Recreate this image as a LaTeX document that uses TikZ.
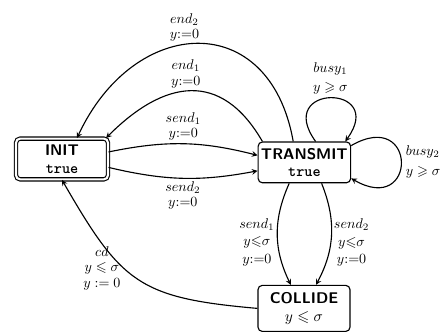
\documentclass[tikz,border=0pt]{standalone}
\usepackage{amsmath,amssymb}
\usepackage{tikz}

\begin{document}
\begin{tikzpicture}[>=stealth, line width=0.8pt,
    loc/.style={draw, rounded corners=3pt, align=center, inner sep=2pt, minimum width=2.3cm, minimum height=1.02cm, font=\fontsize{11}{12.5}\selectfont},
    lbl/.style={align=center, inner sep=1pt, font=\fontsize{10}{11}\selectfont},
    lbltall/.style={lbl, font=\fontsize{10}{12.5}\selectfont},
    lblbusy/.style={lbl, font=\fontsize{10}{14}\selectfont}]

    \useasboundingbox (0,0) rectangle (11.2,8.35);

    \node [loc, double, double distance=1.5pt] (init) at (1.55,4.375) {\textsf{\textbf{INIT}}\\\texttt{\textbf{true}}};
    \node [loc] (tr) at (7.61,4.29) {\textsf{\textbf{TRANSMIT}}\\\texttt{\textbf{true}}};
    \node [loc, minimum height=1.15cm] (co) at (7.6,0.64) {\textsf{\textbf{COLLIDE}}\\$y \leqslant \sigma$};

    % INIT <-> TRANSMIT
    \draw [->] ([yshift=5pt]init.east) to[bend left=13] node[lbl, above=1pt] {$send_1$\\$y{:=}0$} ([yshift=5pt]tr.west);
    \draw [->] ([yshift=-6pt]init.east) to[bend right=12] node[lbl, below=1pt] {$send_2$\\$y{:=}0$} ([yshift=-6pt]tr.west);
    \draw [->] ([xshift=-1.05cm]tr.north) to[out=120, in=45, looseness=1.35] node[lbl, above=1pt, pos=0.53] {$end_1$\\$y{:=}0$} ([xshift=1.1cm]init.north);
    \draw [->] ([xshift=-0.28cm]tr.north) to[out=100, in=65, looseness=1.6] node[lbl, above=1pt, pos=0.55] {$end_2$\\$y{:=}0$} ([xshift=0.375cm]init.north);

    % self loops
    \draw [->] ([xshift=0.28cm]tr.north) to[out=126, in=54, looseness=6.2] node[lblbusy, above=1pt] {$busy_1$\\$y \geqslant \sigma$} ([xshift=1.02cm]tr.north);
    \draw [->] ([yshift=0.42cm]tr.east) to[out=30, in=-30, looseness=6] node[lblbusy, right=2pt, align=left] {$busy_2$\\$y \geqslant \sigma$} ([yshift=-0.4cm]tr.east);

    % TRANSMIT -> COLLIDE -> INIT
    \draw [->] ([xshift=-0.38cm]tr.south) to[bend right=25] node[lbltall, left=1pt, pos=0.58] {$send_1$\\$y{\leqslant}\sigma$\\$y{:=}0$} ([xshift=-0.33cm]co.north);
    \draw [->] ([xshift=0.43cm]tr.south) to[bend left=25] node[lbltall, right=1pt, pos=0.58] {$send_2$\\$y{\leqslant}\sigma$\\$y{:=}0$} ([xshift=0.3cm]co.north);
    \draw [->] (co.west) to[out=175, in=-60, looseness=1.3] node[lbl, left=1pt, pos=0.59] {$cd$\\$y \leqslant \sigma$\\$y := 0$} (init.south);
\end{tikzpicture}
\end{document}
